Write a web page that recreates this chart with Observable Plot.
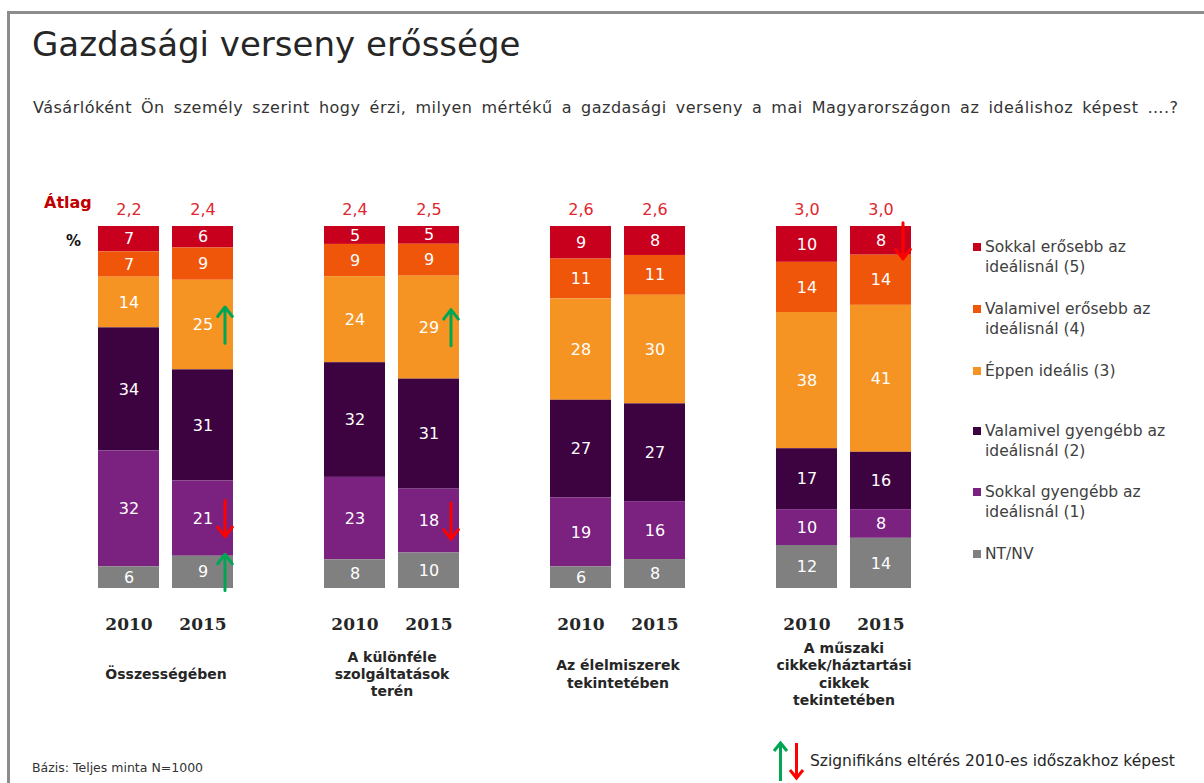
<!DOCTYPE html>
<html><head><meta charset="utf-8">
<script src="https://cdn.jsdelivr.net/npm/d3@7"></script>
<script src="https://cdn.jsdelivr.net/npm/@observablehq/plot@0.6"></script>
<style>
body{margin:0;background:#fff;font-family:"DejaVu Sans",Verdana,sans-serif;}
#wrap{position:relative;width:1204px;height:783px;overflow:hidden;background:#fff;}
.abs{position:absolute;white-space:nowrap;}
#frame{position:absolute;left:7px;top:11px;width:1300px;height:900px;border-left:3px solid #8c8c8c;border-top:3px solid #8c8c8c;}
#title{left:32px;top:24px;font-size:34px;line-height:40px;color:#262626;}
#subtitle{left:33px;top:98px;font-size:16px;line-height:20px;color:#333;letter-spacing:0.5px;word-spacing:3.5px;}
#atlag{left:44px;top:193px;font-size:16px;line-height:20px;font-weight:bold;color:#C00000;}
#pct{left:66px;top:231px;font-size:15px;line-height:20px;font-weight:bold;color:#111;}
.leg{position:absolute;left:985px;font-size:15.5px;line-height:20px;color:#404040;white-space:nowrap;}
.sq{position:absolute;left:973px;width:8px;height:8px;}
#bazis{left:32px;top:760px;font-size:12.5px;line-height:16px;color:#333;}
#szig{left:810px;top:751px;font-size:15.5px;line-height:20px;color:#262626;}
#arr{position:absolute;left:770px;top:738px;}
#chartbox{position:absolute;left:0;top:160px;width:1204px;height:560px;}
</style></head>
<body><div id="wrap">
<div id="frame"></div>
<div class="abs" id="title">Gazdasági verseny erőssége</div>
<div class="abs" id="subtitle">Vásárlóként Ön személy szerint hogy érzi, milyen mértékű a gazdasági verseny a mai Magyarországon az ideálishoz képest ….?</div>
<div id="chartbox"></div>
<div class="abs" id="atlag">Átlag</div>
<div class="abs" id="pct">%</div>
<div id="legend"></div>
<div class="abs" id="bazis">Bázis: Teljes minta N=1000</div>
<svg id="arr" width="40" height="46"><g stroke-width="3" fill="none">
<line x1="10.5" y1="43" x2="10.5" y2="6" stroke="#00A651"/><polyline points="4,13 10.5,5 17,13" stroke="#00A651"/>
<line x1="26.5" y1="5" x2="26.5" y2="39" stroke="#FF0000"/><polyline points="20,32 26.5,40 33,32" stroke="#FF0000"/></g></svg>
<div class="abs" id="szig">Szignifikáns eltérés 2010-es időszakhoz képest</div>
</div>
<script>
// ---- data ----
const groups = ["Összességében", "A különféle szolgáltatások terén", "Az élelmiszerek tekintetében", "A műszaki cikkek/háztartási cikkek tekintetében"];
const groupLabels = ["Összességében", "A különféle\nszolgáltatások\nterén", "Az élelmiszerek\ntekintetében", "A műszaki\ncikkek/háztartási\ncikkek\ntekintetében"];
const years = ["2010", "2015"];
const seriesNames = ["Sokkal erősebb az ideálisnál (5)", "Valamivel erősebb az ideálisnál (4)", "Éppen ideális (3)", "Valamivel gyengébb az ideálisnál (2)", "Sokkal gyengébb az ideálisnál (1)", "NT/NV"];
const legendLines = [["Sokkal erősebb az", "ideálisnál (5)"], ["Valamivel erősebb az", "ideálisnál (4)"], ["Éppen ideális (3)"], ["Valamivel gyengébb az", "ideálisnál (2)"], ["Sokkal gyengébb az", "ideálisnál (1)"], ["NT/NV"]];
const colors = ["#C8001E", "#F0560A", "#F59423", "#3D0340", "#7B2180", "#808080"];
// values in order: g1-2010, g1-2015, g2-2010, g2-2015, g3-2010, g3-2015, g4-2010, g4-2015
const s5 = [7, 6, 5, 5, 9, 8, 10, 8];
const s4 = [7, 9, 9, 9, 11, 11, 14, 14];
const s3 = [14, 25, 24, 29, 28, 30, 38, 41];
const s2 = [34, 31, 32, 31, 27, 27, 17, 16];
const s1 = [32, 21, 23, 18, 19, 16, 10, 8];
const snt = [6, 9, 8, 10, 6, 8, 12, 14];
const averages = ["2,2", "2,4", "2,4", "2,5", "2,6", "2,6", "3,0", "3,0"];
// significant changes: column index, series index, direction
const sigCol = [1, 1, 1, 3, 3, 7];
const sigSeries = [2, 4, 5, 2, 4, 0];
const sigDir = ["up", "down", "up", "up", "down", "down"];

const seriesValues = [s5, s4, s3, s2, s1, snt];
const stackOrder = [...seriesNames].reverse(); // bottom to top

const segs = [];
seriesValues.forEach((vals, si) => vals.forEach((v, k) => {
  segs.push({group: groups[Math.floor(k / 2)], year: years[k % 2], series: seriesNames[si], value: v});
}));
const avgData = averages.map((a, k) => ({group: groups[Math.floor(k / 2)], year: years[k % 2], text: a}));

const arrowLen = 0.05;
const arrows = sigCol.map((k, i) => {
  const si = sigSeries[i];
  const total = d3.sum(seriesValues, s => s[k]);
  let below = 0;
  for (let j = seriesValues.length - 1; j > si; j--) below += seriesValues[j][k];
  const mid = (below + seriesValues[si][k] / 2) / total;
  const up = sigDir[i] === "up";
  return {group: groups[Math.floor(k / 2)], year: years[k % 2],
    y1: up ? mid - arrowLen : mid + arrowLen, y2: up ? mid + arrowLen : mid - arrowLen,
    color: up ? "#00A651" : "#FF0000"};
});

// legend (HTML)
const legendCenters = [247, 309, 371, 431, 492, 554];
const legend = document.getElementById("legend");
legendLines.forEach((lines, i) => {
  const sq = document.createElement("div");
  sq.className = "sq"; sq.style.top = (legendCenters[i] - 4) + "px"; sq.style.background = colors[i];
  legend.appendChild(sq);
  const t = document.createElement("div");
  t.className = "leg"; t.style.top = (legendCenters[i] - 10) + "px";
  t.innerHTML = lines.join("<br>");
  legend.appendChild(t);
});

const stackOpts = {offset: "normalize", order: stackOrder};

const chart = Plot.plot({
  width: 1204,
  height: 560,
  marginLeft: 96,
  marginRight: 292,
  marginTop: 66,
  marginBottom: 132,
  style: {fontFamily: "DejaVu Sans, Verdana, sans-serif", fontSize: "16px", background: "transparent", overflow: "visible"},
  fx: {domain: groups, paddingInner: 0.395, paddingOuter: 0, axis: null, label: null},
  x: {domain: years, paddingInner: 0.173, paddingOuter: 0, axis: null, label: null},
  y: {domain: [0, 1], axis: null},
  color: {domain: seriesNames, range: colors},
  marks: [
    Plot.barY(segs, Plot.stackY({...stackOpts, fx: "group", x: "year", y: "value", z: "series", fill: "series"})),
    Plot.text(segs, Plot.stackY({...stackOpts, fx: "group", x: "year", y: "value", z: "series", text: d => String(d.value), fill: "white", fontSize: 16})),
    Plot.arrow(arrows, {fx: "group", x1: "year", x2: "year", y1: "y1", y2: "y2", stroke: "color", strokeWidth: 3, headLength: 11, headAngle: 75, dx: 22}),
    Plot.text(avgData, {fx: "group", x: "year", text: "text", frameAnchor: "top", dy: -23, fill: "#E0262E", fontSize: 16}),
    Plot.axisX({tickSize: 0, tickPadding: 29, fontSize: 17, fontWeight: "bold", fontFamily: "DejaVu Serif, serif", fill: "#262626", label: null}),
    Plot.text(groups, {fx: d => d, text: (d, i) => groupLabels[i], frameAnchor: "bottom", dy: 85, lineAnchor: "middle", lineHeight: 1.22, fontWeight: "bold", fontSize: 14, fill: "#262626"})
  ]
});
document.getElementById("chartbox").appendChild(chart);
</script>
</body></html>
